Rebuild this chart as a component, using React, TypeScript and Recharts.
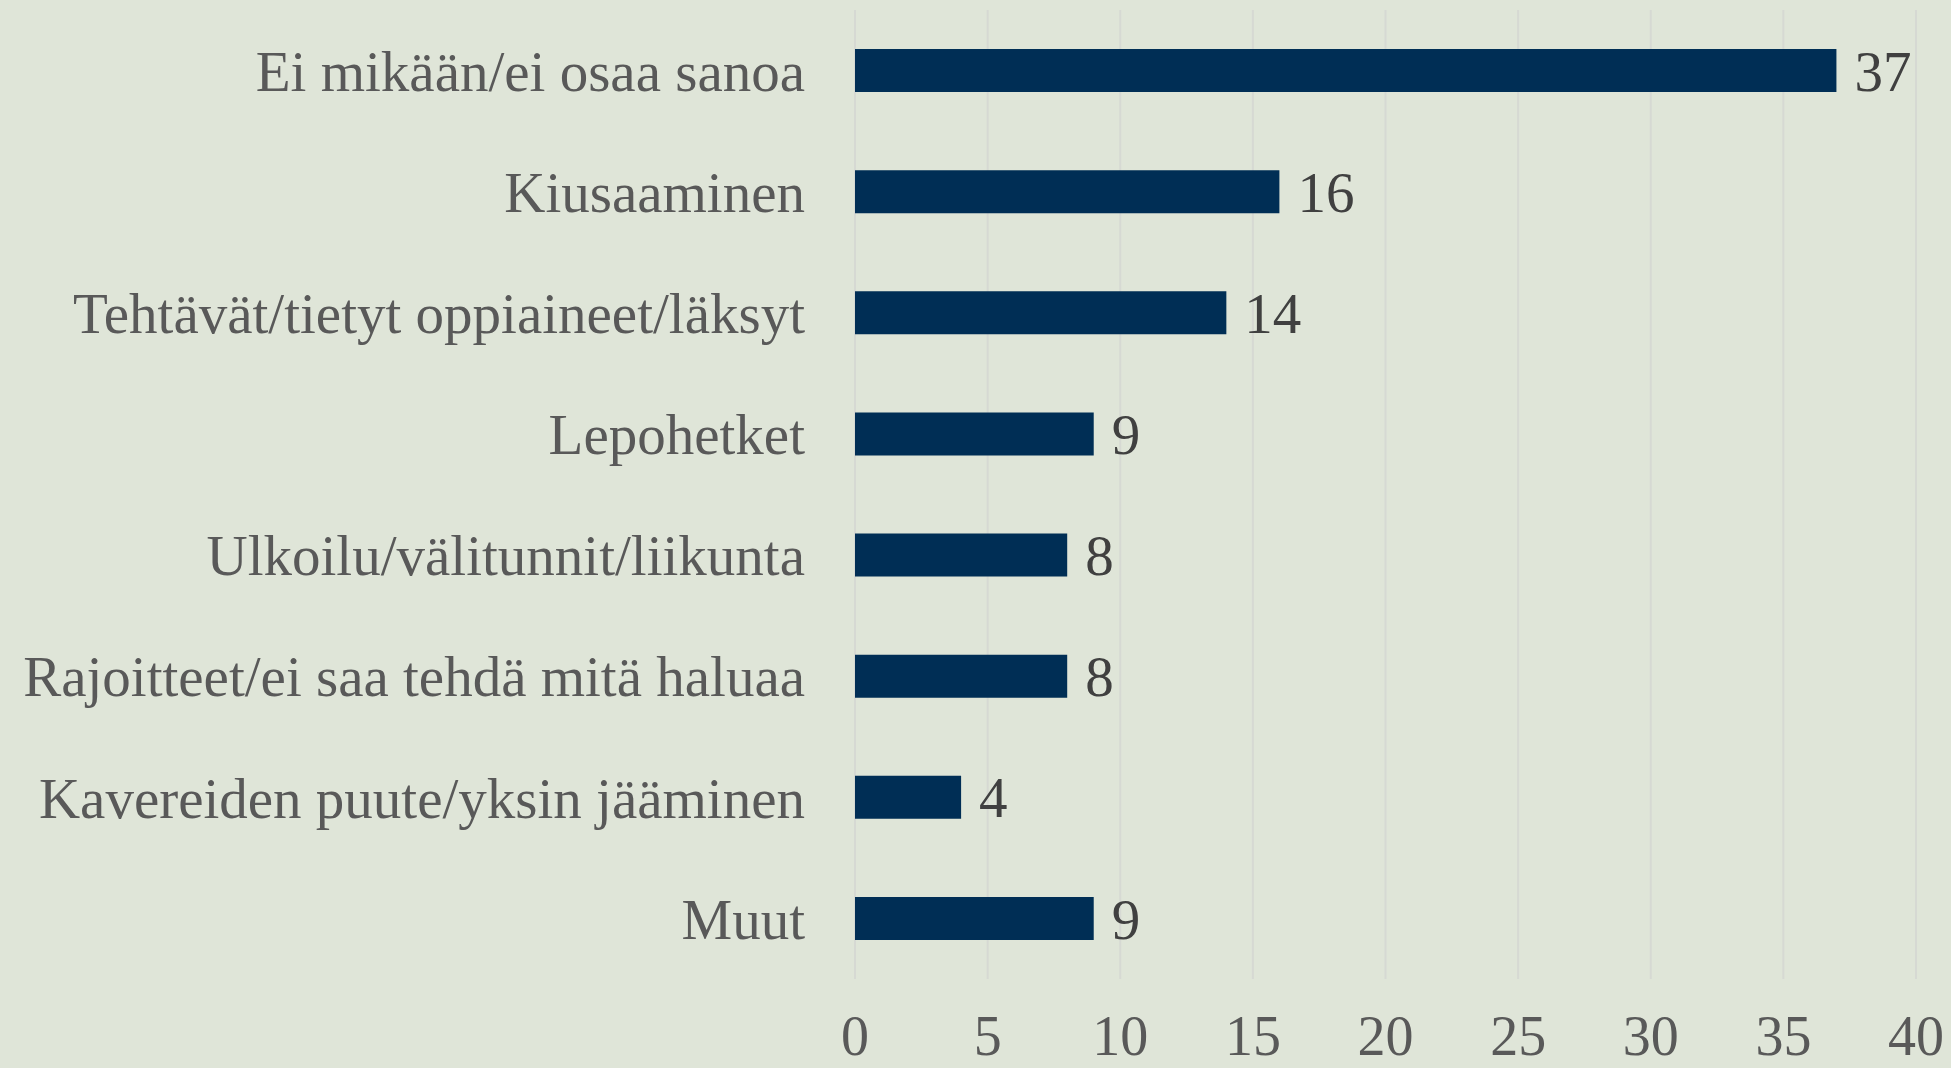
import React from 'react';
import { BarChart, Bar, XAxis, YAxis, CartesianGrid, LabelList } from 'recharts';

const categories = [
  'Ei mikään/ei osaa sanoa',
  'Kiusaaminen',
  'Tehtävät/tietyt oppiaineet/läksyt',
  'Lepohetket',
  'Ulkoilu/välitunnit/liikunta',
  'Rajoitteet/ei saa tehdä mitä haluaa',
  'Kavereiden puute/yksin jääminen',
  'Muut',
];
const values = [37, 16, 14, 9, 8, 8, 4, 9];
const xTicks = [0, 5, 10, 15, 20, 25, 30, 35, 40];

const FONT = '"Liberation Serif", "DejaVu Serif", serif';
const BG = '#DFE5D8';
const BAR = '#002E55';

const App: React.FC = () => {
  const data = categories.map((name, i) => ({ name, value: values[i] }));

  return (
    <div style={{ position: 'absolute', left: 0, top: 0, width: 1951, height: 1068, background: BG }}>
      <BarChart
        width={1951}
        height={1068}
        data={data}
        layout="vertical"
        margin={{ top: 10, right: 35, bottom: 0, left: 0 }}
      >
        <CartesianGrid horizontal={false} stroke="#D6D9D3" strokeWidth={2} />
        <XAxis
          type="number"
          domain={[0, 40]}
          ticks={xTicks}
          interval={0}
          axisLine={false}
          tickLine={false}
          tickSize={0}
          tickMargin={36}
          height={89}
          tick={{ fill: '#595959', fontSize: 56, fontFamily: FONT }}
        />
        <YAxis
          type="category"
          dataKey="name"
          width={855}
          axisLine={false}
          tickLine={false}
          tickSize={0}
          tickMargin={50}
          interval={0}
          tick={{ fill: '#595959', fontSize: 57, fontFamily: FONT }}
        />
        <Bar dataKey="value" fill={BAR} barSize={43} isAnimationActive={false}>
          <LabelList
            dataKey="value"
            position="right"
            offset={18}
            fill="#404040"
            fontSize={57}
            fontFamily={FONT}
          />
        </Bar>
      </BarChart>
    </div>
  );
};

export default App;
